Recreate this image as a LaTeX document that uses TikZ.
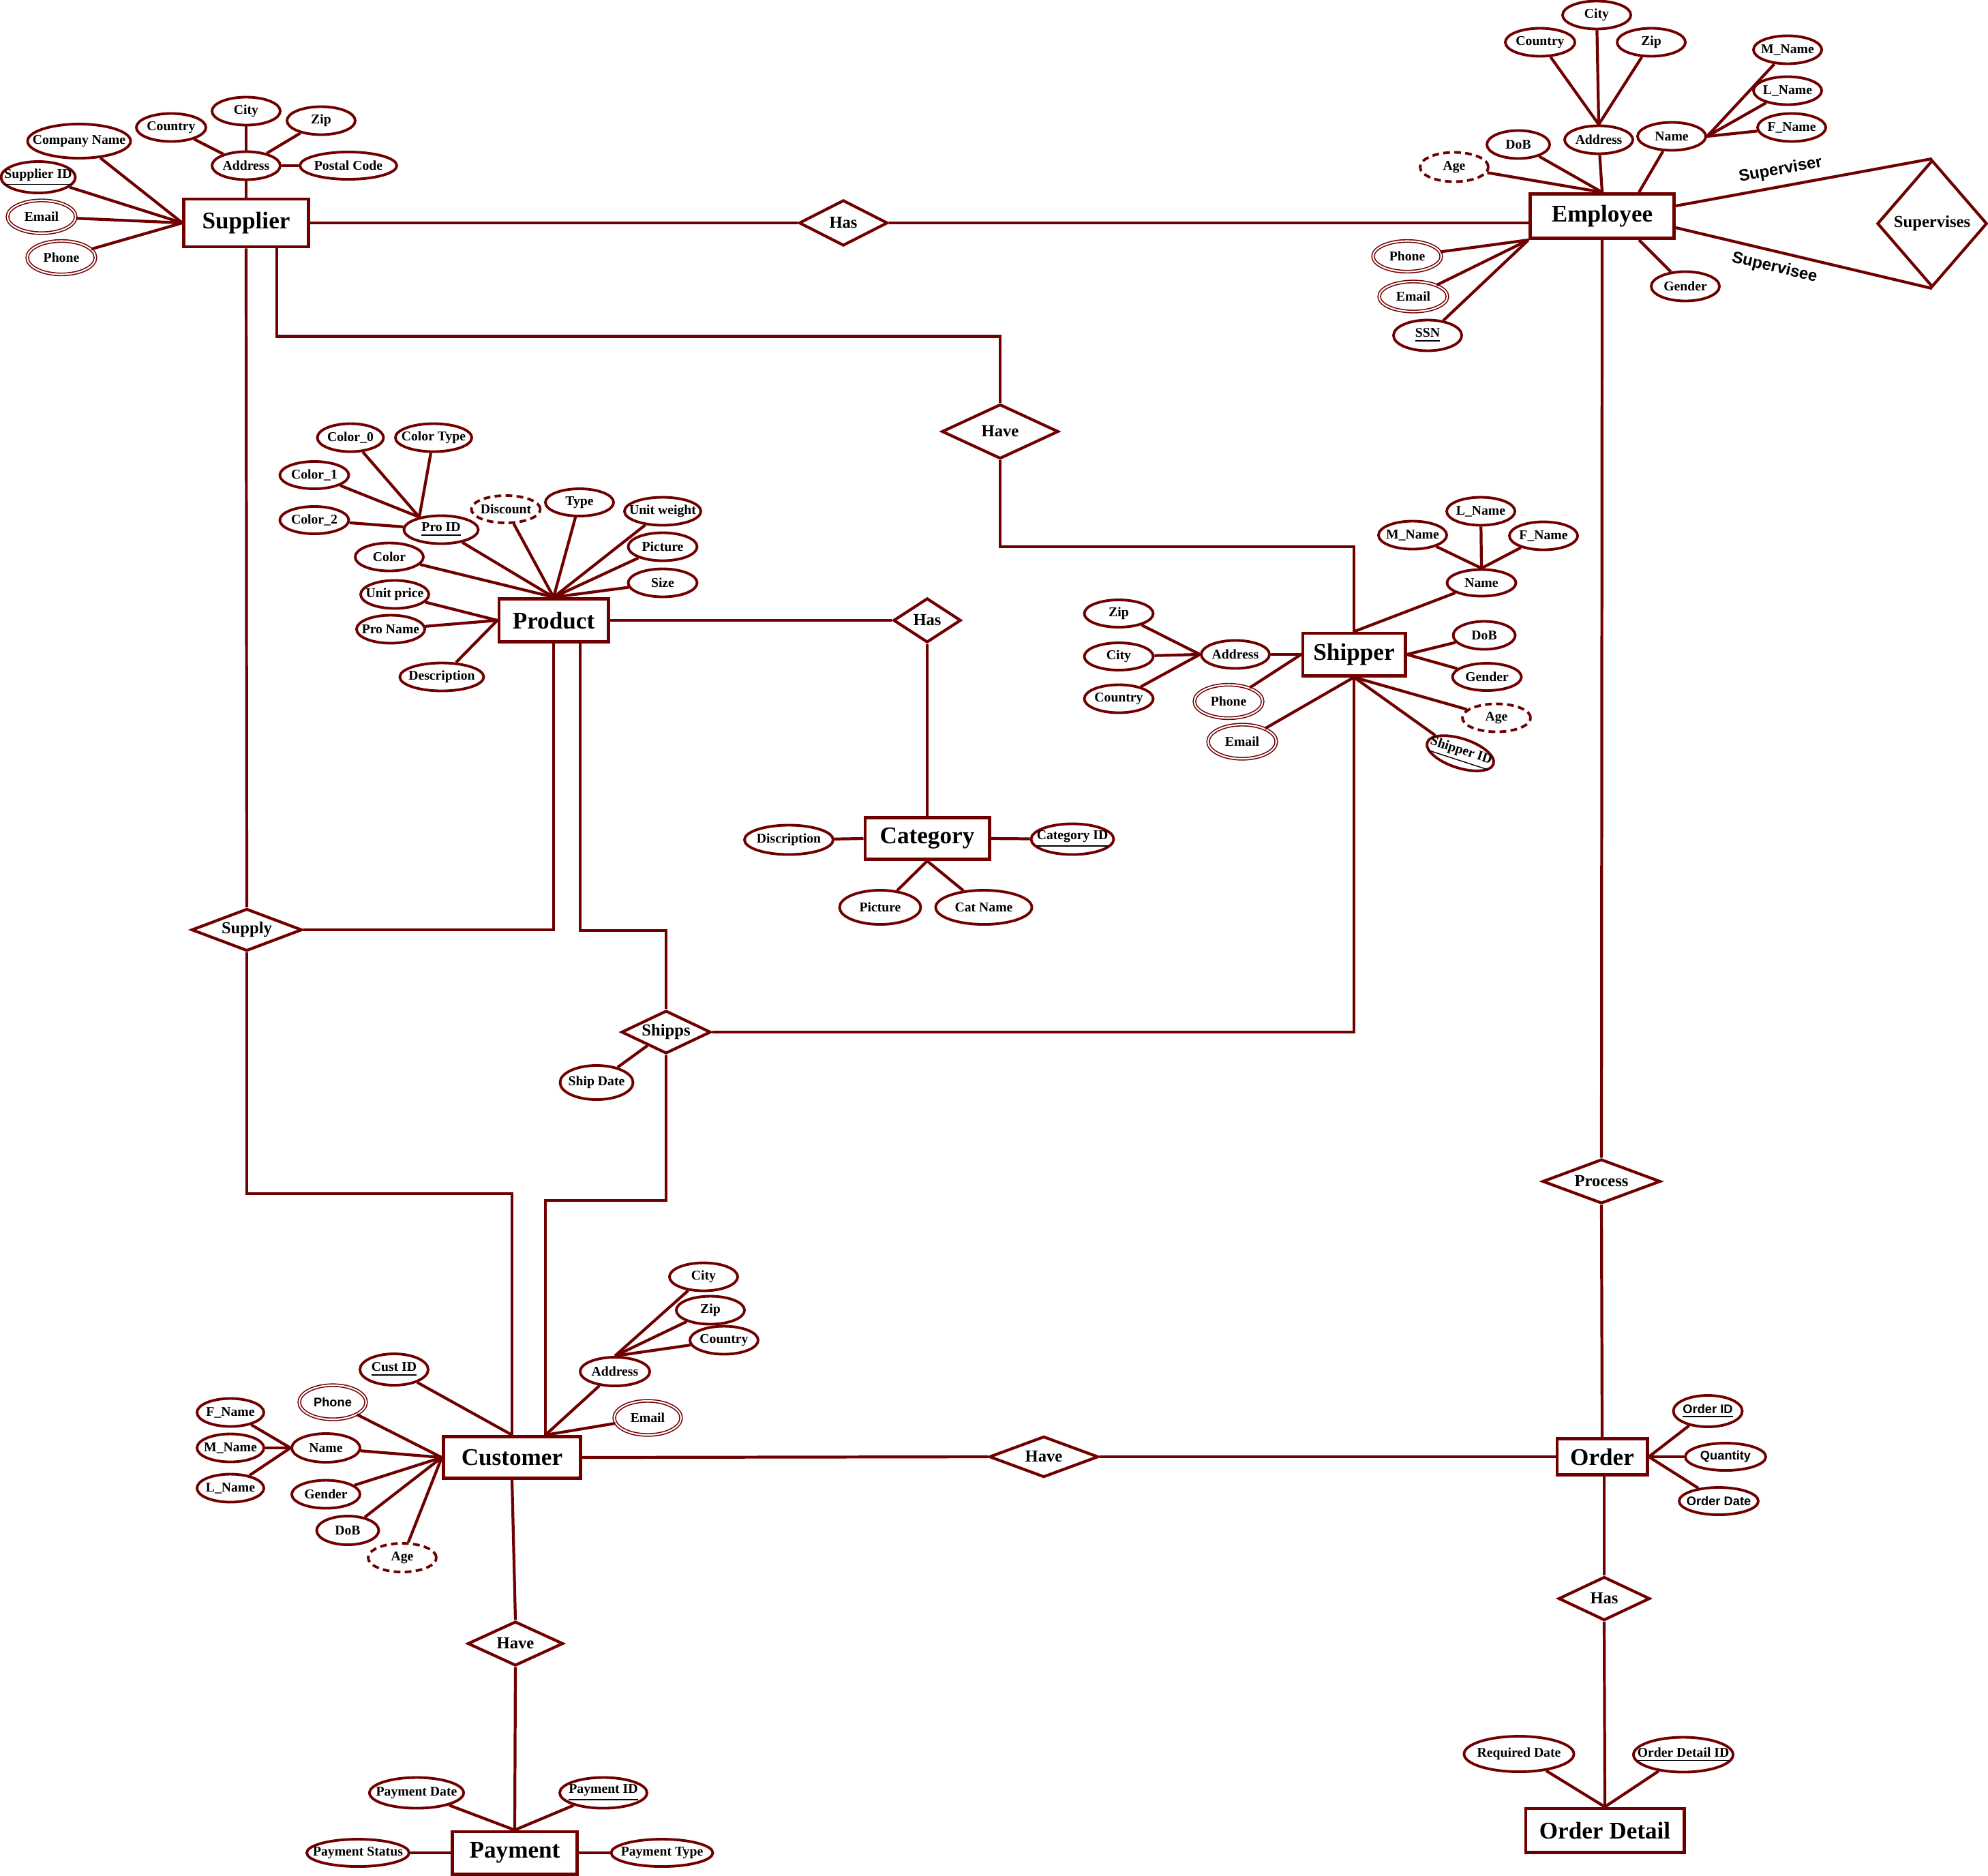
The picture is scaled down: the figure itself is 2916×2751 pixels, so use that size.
\documentclass[tikz,border=0pt]{standalone}
\usepackage{fontspec}
\setmainfont{Liberation Serif}
\setsansfont{Liberation Sans}
\usetikzlibrary{shapes.geometric,calc}
\definecolor{erred}{RGB}{112,0,0}
\newcommand\entfont{\fontsize{10}{12}\selectfont\bfseries}
\newcommand\relfont{\fontsize{7}{8.4}\selectfont\bfseries}
\newcommand\attfont{\fontsize{5.6}{6.7}\selectfont\bfseries}
\newcommand\attsans{\fontsize{5.2}{6.2}\selectfont\sffamily\bfseries}
\newcommand\rolefont{\fontsize{6.8}{8}\selectfont\sffamily\bfseries}
\tikzset{
  entity/.style={rectangle,draw,line width=1.4pt,fill=white,text=black,inner sep=0pt,font=\entfont},
  attr/.style={ellipse,draw,line width=1.1pt,fill=white,text=black,inner xsep=-12pt,inner ysep=-3pt,
    minimum width=1cm,minimum height=0.41cm,font=\attfont},
  multattr/.style={attr,double=white,double distance=0.6pt,line width=0.45pt},
  derattr/.style={attr,dash pattern=on 2.8pt off 1.8pt},
  rel/.style={diamond,draw,line width=1.2pt,fill=white,text=black,inner sep=0pt,aspect=2,font=\relfont},
  rolelabel/.style={text=black,font=\rolefont,inner sep=1pt}
}
\begin{document}
\begin{tikzpicture}[x=0.01cm,y=-0.01cm,color=erred,line width=1.2pt]
\fill[white] (0,0) rectangle (2916,2751);
\useasboundingbox (0,0) rectangle (2916,2751);

% Supplier
\node[entity,minimum width=1.82cm,minimum height=0.7cm] (sup) at (361,327) {Supplier};
\node[attr] (supAddr) at (361,243) {Address};
\node[attr] (supCity) at (361,163) {City};
\node[attr,minimum width=1.02cm] (supCountry) at (251,187) {Country};
\node[attr] (supZip) at (471,177) {Zip};
\node[attr,minimum width=1.42cm,minimum height=0.4cm] (supPostal) at (511,243) {Postal Code};
\node[attr,minimum width=1.51cm,minimum height=0.5cm] (supCompany) at (116,207) {Company Name};
\node[attr,minimum width=1.09cm,minimum height=0.46cm] (supID) at (56,260) {\underline{Supplier ID}};
\node[multattr,minimum height=0.48cm] (supEmail) at (61,318) {Email};
\node[multattr,minimum height=0.49cm] (supPhone) at (90,378) {Phone};
\draw (supAddr) -- (sup.north);
\draw (supCity) -- (supAddr);
\draw (supCountry) -- (supAddr);
\draw (supZip) -- (supAddr);
\draw (supPostal) -- (supAddr);
\draw (supCompany) -- (sup.west);
\draw (supID) -- (sup.west);
\draw (supEmail) -- (sup.west);
\draw (supPhone) -- (sup.west);
\coordinate (supR) at ($(sup.south)+(45,0)$);

% Employee
\node[entity,minimum width=2.11cm,minimum height=0.65cm] (emp) at (2350,317) {Employee};
\node[attr] (empAddr) at (2345,205) {Address};
\node[attr] (empCity) at (2342,22) {City};
\node[attr,minimum width=1.02cm] (empCountry) at (2259,62) {Country};
\node[attr] (empZip) at (2422,62) {Zip};
\node[attr] (empName) at (2452,200) {Name};
\node[attr] (empMName) at (2622,73) {M\_Name};
\node[attr] (empLName) at (2622,133) {L\_Name};
\node[attr] (empFName) at (2628,187) {F\_Name};
\node[attr,minimum width=0.92cm] (empDoB) at (2227,212) {DoB};
\node[derattr,minimum height=0.43cm] (empAge) at (2133,245) {Age};
\node[multattr,minimum height=0.45cm] (empPhone) at (2064,376) {Phone};
\node[multattr,minimum height=0.44cm] (empEmail) at (2073,435) {Email};
\node[attr,minimum height=0.45cm] (empSSN) at (2094,492) {\underline{SSN}};
\node[attr,minimum height=0.43cm] (empGender) at (2472,420) {Gender};
\node[rel,minimum width=1.61cm,minimum height=1.86cm] (supv) at (2834,328) {Supervises};
\draw (empCity) -- (empAddr.north);
\draw (empCountry) -- (empAddr.north);
\draw (empZip) -- (empAddr.north);
\draw (empMName) -- (empName.east);
\draw (empLName) -- (empName.east);
\draw (empFName) -- (empName.east);
\draw (empAge) -- (emp.north);
\draw (empDoB) -- (emp.north);
\draw (empAddr) -- (emp.north);
\draw (empName) -- ($(emp.north west)!0.75!(emp.north east)$);
\draw (empGender) -- ($(emp.south west)!0.75!(emp.south east)$);
\draw (empPhone) -- (emp.south west);
\draw (empEmail) -- (emp.south west);
\draw (empSSN) -- (emp.south west);
\draw ($(emp.east)+(0,-15)$) -- node[rolelabel,pos=0.42,above=2pt,sloped] {Superviser} (supv.north);
\draw ($(emp.east)+(0,17)$) -- node[rolelabel,pos=0.4,below=2pt,sloped] {Supervisee} (supv.south);

% Supplier -- Employee
\node[rel,minimum width=1.3cm,minimum height=0.67cm] (hasSE) at (1237,327) {Has};
\draw (sup.east) -- (hasSE.west);
\draw (hasSE.east) -- (hasSE.east -| emp.west);

% Product
\node[entity,minimum width=1.6cm,minimum height=0.63cm] (pro) at (812,910) {Product};
\node[attr,minimum width=0.97cm] (proColor0) at (514,642) {Color\_0};
\node[attr,minimum width=1.12cm] (proColorType) at (636,642) {Color Type};
\node[attr,minimum width=1.01cm,minimum height=0.4cm] (proColor1) at (461,697) {Color\_1};
\node[attr,minimum width=1.01cm,minimum height=0.4cm] (proColor2) at (461,763) {Color\_2};
\node[attr,minimum width=1.09cm] (proID) at (647,777) {\underline{Pro ID}};
\node[derattr,minimum width=1.01cm,minimum height=0.4cm] (proDiscount) at (742,747) {Discount};
\node[attr,minimum height=0.4cm] (proType) at (850,737) {Type};
\node[attr,minimum width=1.12cm] (proWeight) at (972,750) {Unit weight};
\node[attr,minimum width=1.01cm] (proPicture) at (972,802) {Picture};
\node[attr,minimum width=1.01cm] (proSize) at (972,855) {Size};
\node[attr] (proColor) at (571,817) {Color};
\node[attr] (proPrice) at (579,872) {Unit price};
\node[attr] (proName) at (573,923) {Pro Name};
\node[attr,minimum width=1.23cm] (proDesc) at (648,993) {Description};
\draw (proColor0) -- (proID.150);
\draw (proColor1) -- (proID.150);
\draw (proColorType) -- (proID.150);
\draw (proColor2) -- (proID);
\draw (proID) -- (pro.north);
\draw (proDiscount) -- (pro.north);
\draw (proType) -- (pro.north);
\draw (proWeight) -- (pro.north);
\draw (proPicture) -- (pro.north);
\draw (proSize) -- (pro.north);
\draw (proColor) -- (pro.north);
\draw (proPrice) -- (pro.west);
\draw (proName) -- (pro.west);
\draw (proDesc) -- (pro.west);

% Category
\node[rel,minimum width=0.99cm,minimum height=0.65cm] (hasPC) at (1360,910) {Has};
\node[entity,minimum width=1.82cm,minimum height=0.61cm] (cat) at (1360,1230) {Category};
\node[attr,minimum width=1.3cm,minimum height=0.43cm] (catDesc) at (1157,1232) {Discription};
\node[attr,minimum width=1.21cm,minimum height=0.45cm] (catID) at (1573,1231) {\underline{Category ID}};
\node[attr,minimum width=1.19cm,minimum height=0.5cm] (catPic) at (1291,1331) {Picture};
\node[attr,minimum width=1.41cm,minimum height=0.5cm] (catName) at (1443,1331) {Cat Name};
\draw (pro.east) -- (hasPC.west);
\draw (hasPC.south) -- (cat.north);
\draw (catDesc) -- (cat.west);
\draw (catID) -- (cat.east);
\draw (catPic) -- (cat.south);
\draw (catName) -- (cat.south);

% Shipper
\node[entity,minimum width=1.5cm,minimum height=0.62cm] (shp) at (1986,960) {Shipper};
\node[attr,minimum width=1.01cm,minimum height=0.39cm] (shpName) at (2173,855) {Name};
\node[attr] (shpLName) at (2172,750) {L\_Name};
\node[attr] (shpMName) at (2072,785) {M\_Name};
\node[attr] (shpFName) at (2264,786) {F\_Name};
\node[attr,minimum width=0.91cm] (shpDoB) at (2177,932) {DoB};
\node[attr,minimum width=1.01cm,minimum height=0.4cm] (shpGender) at (2181,993) {Gender};
\node[derattr] (shpAge) at (2195,1053) {Age};
\node[attr,minimum width=1.02cm,minimum height=0.43cm,rotate=-18] (shpID) at (2142,1105) {\underline{Shipper ID}};
\node[attr] (shpAddr) at (1812,960) {Address};
\node[attr,minimum width=1.01cm,minimum height=0.4cm] (shpZip) at (1641,900) {Zip};
\node[attr,minimum width=1.01cm,minimum height=0.4cm] (shpCity) at (1641,963) {City};
\node[attr,minimum width=1.01cm] (shpCountry) at (1641,1025) {Country};
\node[multattr,minimum height=0.49cm] (shpPhone) at (1802,1029) {Phone};
\node[multattr,minimum height=0.5cm] (shpEmail) at (1822,1088) {Email};
\draw (shpMName) -- (shpName.north);
\draw (shpLName) -- (shpName.north);
\draw (shpFName) -- (shpName.north);
\draw (shpName) -- (shp.north);
\draw (shpDoB) -- (shp.east);
\draw (shpGender) -- (shp.east);
\draw (shpAge) -- (shp.south);
\draw (shpID) -- (shp.south);
\draw (shpEmail) -- (shp.south);
\draw (shpPhone) -- (shp.west);
\draw (shpAddr) -- (shp.west);
\draw (shpZip) -- (shpAddr.west);
\draw (shpCity) -- (shpAddr.west);
\draw (shpCountry) -- (shpAddr.west);

% Supplier -- Shipper
\node[rel,minimum width=1.71cm,minimum height=0.8cm] (haveSS) at (1467,633) {Have};
\draw (supR) -- ++(0,129) -| (haveSS.north);
\draw (haveSS.south) -- ++(0,127) -| (shp.north);

% Customer
\node[entity,minimum width=2.01cm,minimum height=0.61cm] (cus) at (751,2138) {Customer};
\coordinate (cusTR) at ($(cus.north)+(49,0)$);
\node[attr,minimum height=0.46cm] (cusID) at (578,2009) {\underline{Cust ID}};
\node[multattr,minimum width=0.98cm,minimum height=0.5cm,font=\attsans] (cusPhone) at (488,2057) {Phone};
\node[attr,minimum height=0.42cm] (cusName) at (478,2124) {Name};
\node[attr,minimum width=0.98cm] (cusFName) at (338,2072) {F\_Name};
\node[attr,minimum width=0.98cm] (cusMName) at (338,2124) {M\_Name};
\node[attr,minimum width=0.98cm] (cusLName) at (338,2183) {L\_Name};
\node[attr] (cusGender) at (478,2192) {Gender};
\node[attr,minimum width=0.91cm,minimum height=0.42cm] (cusDoB) at (510,2245) {DoB};
\node[derattr,minimum height=0.42cm] (cusAge) at (590,2285) {Age};
\node[attr,minimum width=1.02cm,minimum height=0.42cm] (cusAddr) at (902,2012) {Address};
\node[attr] (cusCity) at (1032,1873) {City};
\node[attr] (cusZip) at (1042,1922) {Zip};
\node[attr] (cusCountry) at (1062,1966) {Country};
\node[multattr,minimum width=0.98cm,minimum height=0.5cm] (cusEmail) at (950,2080) {Email};
\draw (cusID) -- (cus.north);
\draw (cusPhone) -- (cus.west);
\draw (cusName) -- (cus.west);
\draw (cusGender) -- (cus.west);
\draw (cusDoB) -- (cus.west);
\draw (cusAge) -- (cus.west);
\draw (cusFName) -- (cusName.west);
\draw (cusMName) -- (cusName.west);
\draw (cusLName) -- (cusName.west);
\draw (cusAddr) -- (cusTR);
\draw (cusEmail) -- (cusTR);
\draw (cusCity) -- (cusAddr.north);
\draw (cusZip) -- (cusAddr.north);
\draw (cusCountry) -- (cusAddr.north);

% Supply and Shipps
\node[rel,minimum width=1.62cm,minimum height=0.62cm] (supply) at (362,1364) {Supply};
\node[rel,minimum width=1.31cm,minimum height=0.63cm] (shipps) at (977,1514) {Shipps};
\node[attr,minimum width=1.07cm,minimum height=0.5cm] (shipDate) at (875,1588) {Ship Date};
\draw (sup.south) -- (supply.north);
\draw (supply.east) -| (pro.south);
\draw (supply.south) -- ++(0,354) -| (cus.north);
\draw ($(pro.south)+(39,0)$) -- ++(0,421) -| (shipps.north);
\draw (shipps.east) -| (shp.south);
\draw (shipps.south) -- ++(0,213) -| (cusTR);
\draw (shipDate) -- (shipps);

% Order
\node[entity,minimum width=1.32cm,minimum height=0.53cm] (ord) at (2350,2137) {Order};
\node[attr,minimum width=1.01cm,minimum height=0.46cm,font=\attsans] (ordID) at (2505,2070) {\underline{Order ID}};
\node[attr,minimum width=1.18cm,minimum height=0.4cm,font=\attsans] (ordQty) at (2531,2137) {Quantity};
\node[attr,minimum width=1.16cm,minimum height=0.4cm,font=\attsans] (ordDate) at (2521,2202) {Order Date};
\draw (ordID) -- (ord.east);
\draw (ordQty) -- (ord.east);
\draw (ordDate) -- (ord.east);
\node[rel,minimum width=1.73cm,minimum height=0.65cm] (proc) at (2349,1733) {Process};
\draw (emp.south) -- (proc.north);
\draw (proc.south) -- (ord.north);
\node[rel,minimum width=1.6cm,minimum height=0.6cm] (haveCO) at (1531,2137) {Have};
\draw (cus.east) -- (haveCO.west);
\draw (haveCO.east) -- (ord.west);

% Order Detail
\node[rel,minimum width=1.34cm,minimum height=0.64cm] (hasOD) at (2353,2345) {Has};
\node[entity,minimum width=2.32cm,minimum height=0.64cm] (odt) at (2354,2685) {Order Detail};
\node[attr,minimum width=1.61cm,minimum height=0.52cm] (odtReq) at (2228,2573) {Required Date};
\node[attr,minimum width=1.46cm,minimum height=0.51cm] (odtID) at (2469,2574) {\underline{Order Detail ID}};
\draw (hasOD.north |- ord.south) -- (hasOD.north);
\draw (hasOD.south) -- (odt.north);
\draw (odtReq) -- (odt.north);
\draw (odtID) -- (odt.north);

% Payment
\node[rel,minimum width=1.4cm,minimum height=0.65cm] (haveCP) at (756,2411) {Have};
\node[entity,minimum width=1.82cm,minimum height=0.62cm] (pay) at (755,2718) {Payment};
\node[attr,minimum width=1.38cm,minimum height=0.45cm] (payDate) at (611,2630) {Payment Date};
\node[attr,minimum width=1.28cm,minimum height=0.45cm] (payID) at (885,2630) {\underline{Payment ID}};
\node[attr,minimum width=1.5cm,minimum height=0.4cm] (payStatus) at (525,2718) {Payment Status};
\node[attr,minimum width=1.49cm,minimum height=0.4cm] (payType) at (971,2718) {Payment Type};
\draw (cus.south) -- (haveCP.north);
\draw (haveCP.south) -- (pay.north);
\draw (payDate) -- (pay.north);
\draw (payID) -- (pay.north);
\draw (payStatus) -- (pay.west);
\draw (payType) -- (pay.east);
\end{tikzpicture}
\end{document}
